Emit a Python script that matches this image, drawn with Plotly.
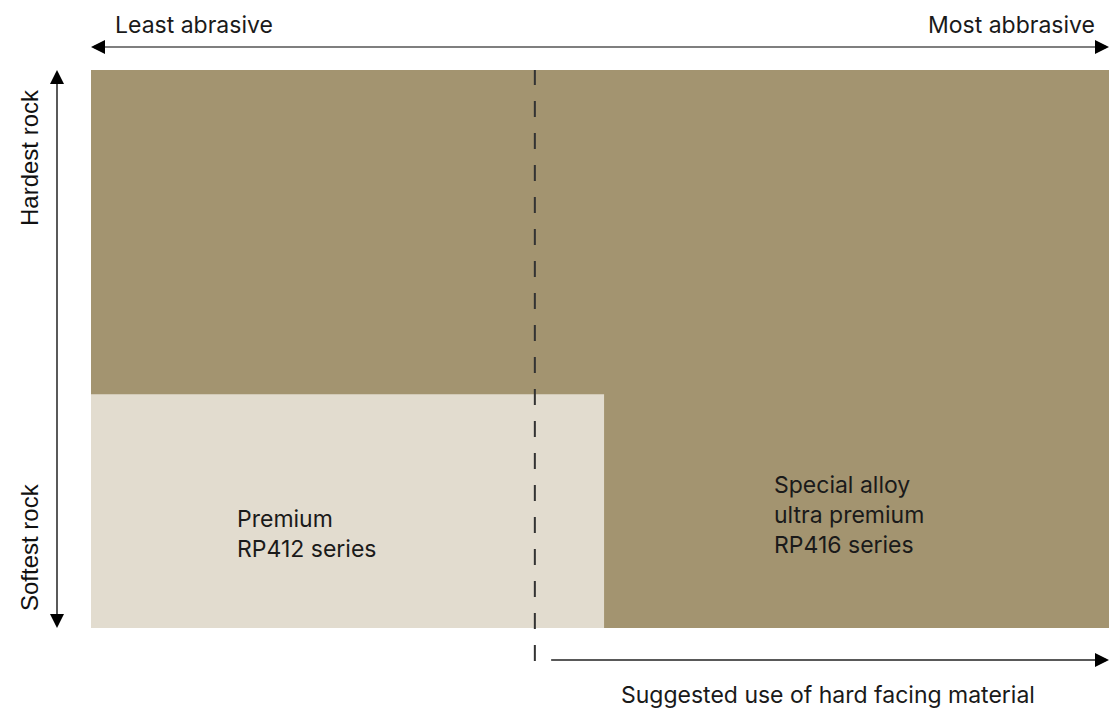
import plotly.graph_objects as go

# Data (abstract units: abrasiveness 0-100 along x, rock hardness 0-100 along y)
regions = ["Special alloy<br>ultra premium<br>RP416 series", "Premium<br>RP412 series"]
region_x0 = [0, 0]
region_x1 = [100, 50.4]
region_y0 = [0, 0]
region_y1 = [100, 41.9]
region_colors = ["#A39470", "#E2DCCF"]
label_x = [66.9, 14.1]
label_y = [20.3, 16.8]
hardfacing_threshold = 43.6
suggested_start = 45.2

W, H = 1109, 708
ML, MR, MT, MB = 91, 0, 70, 80
PW, PH = W - ML - MR, H - MT - MB
FONT = "Inter, Roboto, Arial, sans-serif"
VFONT = "Liberation Sans, Arial, sans-serif"


def px(xp):
    return (xp - ML) / PW


def py(yp):
    return (H - MB - yp) / PH


fig = go.Figure()
fig.add_trace(go.Scatter(x=[0, 100], y=[0, 100], mode="markers",
                         marker=dict(opacity=0), hoverinfo="skip", showlegend=False))

for x0, x1, y0, y1, c in zip(region_x0, region_x1, region_y0, region_y1, region_colors):
    fig.add_shape(type="rect", xref="x", yref="y", x0=x0, x1=x1, y0=y0, y1=y1,
                  fillcolor=c, line=dict(width=0), layer="below")

# dashed threshold line
fig.add_shape(type="line", xref="x", yref="paper", x0=hardfacing_threshold, x1=hardfacing_threshold,
              y0=py(661), y1=1.0, line=dict(color="#333333", width=2, dash="16px,16px"))

for txt, lx, ly in zip(regions, label_x, label_y):
    fig.add_annotation(text=txt, x=lx, y=ly, xref="x", yref="y", xanchor="left", yanchor="middle",
                       align="left", showarrow=False, font=dict(family=FONT, size=23, color="#1a1a1a"))

HEAD = dict(text="", showarrow=True, arrowhead=2, arrowsize=1.0, arrowwidth=2.8,
            arrowcolor="#000000", standoff=0)

# top double arrow: gray line + black heads
ytop = py(47)
fig.add_shape(type="line", xref="x", yref="paper", x0=0.5, x1=99.5, y0=ytop, y1=ytop,
              line=dict(color="#555555", width=1.7))
fig.add_annotation(x=0, y=ytop, xref="x", yref="paper", ax=1.0, ay=0, axref="x", ayref="pixel", **HEAD)
fig.add_annotation(x=100, y=ytop, xref="x", yref="paper", ax=99.0, ay=0, axref="x", ayref="pixel", **HEAD)

# vertical double arrow
xv = px(57)
fig.add_shape(type="line", xref="paper", yref="y", x0=xv, x1=xv, y0=0.5, y1=99.5,
              line=dict(color="#000000", width=1.3))
fig.add_annotation(x=xv, y=100, xref="paper", yref="y", ax=0, ay=98.5, axref="pixel", ayref="y", **HEAD)
fig.add_annotation(x=xv, y=0, xref="paper", yref="y", ax=0, ay=1.5, axref="pixel", ayref="y", **HEAD)

# bottom arrow
ybot = py(660)
fig.add_shape(type="line", xref="x", yref="paper", x0=suggested_start, x1=99.5, y0=ybot, y1=ybot,
              line=dict(color="#222222", width=1.5))
fig.add_annotation(x=100, y=ybot, xref="x", yref="paper", ax=99.0, ay=0, axref="x", ayref="pixel", **HEAD)

tfont = dict(family=FONT, size=23, color="#1a1a1a")
vfont = dict(family=VFONT, size=24, color="#111111")
fig.add_annotation(text="Least abrasive", x=px(113), y=py(25), xref="paper", yref="paper",
                   xanchor="left", yanchor="middle", showarrow=False, font=tfont)
fig.add_annotation(text="Most abbrasive", x=px(1097), y=py(25), xref="paper", yref="paper",
                   xanchor="right", yanchor="middle", showarrow=False, font=tfont)
fig.add_annotation(text="Hardest rock", x=px(29), y=py(158), xref="paper", yref="paper",
                   xanchor="center", yanchor="middle", textangle=-90, showarrow=False, font=vfont)
fig.add_annotation(text="Softest rock", x=px(29), y=py(547), xref="paper", yref="paper",
                   xanchor="center", yanchor="middle", textangle=-90, showarrow=False, font=vfont)
fig.add_annotation(text="Suggested use of hard facing material", x=px(828), y=py(695),
                   xref="paper", yref="paper", xanchor="center", yanchor="middle",
                   showarrow=False, font=tfont)

fig.update_xaxes(range=[0, 100], visible=False, fixedrange=True)
fig.update_yaxes(range=[0, 100], visible=False, fixedrange=True)
fig.update_layout(width=W, height=H, margin=dict(l=ML, r=MR, t=MT, b=MB),
                  paper_bgcolor="white", plot_bgcolor="white", showlegend=False)
fig.write_html("out.html", config={"displayModeBar": False},
               post_script="document.body.style.margin='0';document.body.style.padding='0';"
                           "document.body.style.overflow='hidden';")
